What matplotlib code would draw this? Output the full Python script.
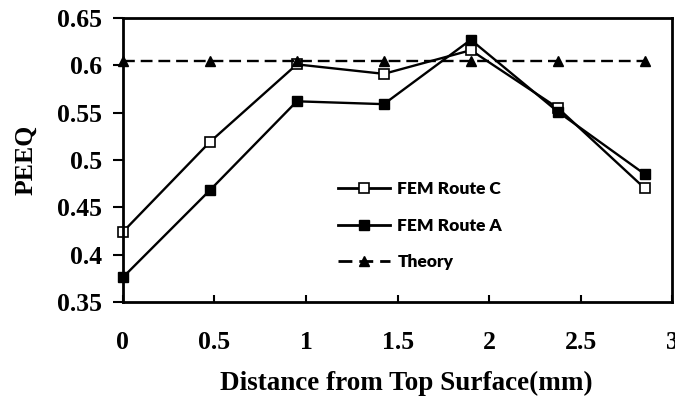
import matplotlib
matplotlib.use("Agg")
import matplotlib.pyplot as plt

x = [0, 0.475, 0.95, 1.425, 1.9, 2.375, 2.85]
route_c = [0.424, 0.519, 0.601, 0.591, 0.616, 0.555, 0.470]
route_a = [0.376, 0.468, 0.562, 0.559, 0.627, 0.551, 0.485]
theory = [0.605, 0.605, 0.605, 0.605, 0.605, 0.605, 0.605]

xticks = [0, 0.5, 1, 1.5, 2, 2.5, 3]
xticklabels = ["0", "0.5", "1", "1.5", "2", "2.5", "3"]
yticks = [0.35, 0.4, 0.45, 0.5, 0.55, 0.6, 0.65]
yticklabels = ["0.35", "0.4", "0.45", "0.5", "0.55", "0.6", "0.65"]

fig = plt.figure(figsize=(6.75, 4), dpi=100)
ax = fig.add_axes([0.182, 0.245, 0.814, 0.71])

lw = 1.7
ax.plot(x, route_c, color="black", lw=lw, marker="s", ms=7.5, mfc="white",
        mec="black", mew=1.2, label="FEM Route C", clip_on=False)
ax.plot(x, route_a, color="black", lw=lw, marker="s", ms=7.5, mfc="black",
        mec="black", label="FEM Route A", clip_on=False)
ax.plot(x, theory, color="black", lw=lw, ls=(0, (5, 2.5)), marker="^", ms=7,
        mfc="black", mec="black", label="Theory", clip_on=False)

ax.set_xlim(0, 3)
ax.set_ylim(0.35, 0.65)
ax.set_xticks(xticks)
ax.set_xticklabels(xticklabels)
ax.set_yticks(yticks)
ax.set_yticklabels(yticklabels)

for lab in ax.get_xticklabels() + ax.get_yticklabels():
    lab.set_fontfamily("Liberation Serif")
    lab.set_fontweight("bold")
    lab.set_fontsize(18.5)

ax.tick_params(axis="x", direction="in", length=5, width=1.5, pad=21)
ax.tick_params(axis="y", direction="out", length=7, width=1.5, pad=8)
for sp in ax.spines.values():
    sp.set_linewidth(2)

ax.set_xlabel("Distance from Top Surface(mm)",
              fontdict={"family": "Liberation Serif", "weight": "bold", "size": 19.5})
ax.xaxis.set_label_coords(0.515, -0.243)
ax.set_ylabel("PEEQ",
              fontdict={"family": "Liberation Serif", "weight": "bold", "size": 18.5},
              labelpad=14)

leg = ax.legend(loc="center left", bbox_to_anchor=(0.392, 0.268), frameon=False,
                prop={"family": "Lato", "weight": "heavy", "size": 12.5},
                handlelength=3.0, handletextpad=0.4, labelspacing=1.18,
                borderpad=0, borderaxespad=0)
for line in leg.get_lines():
    line.set_linewidth(2.0)

fig.savefig("out.png", dpi=100)
